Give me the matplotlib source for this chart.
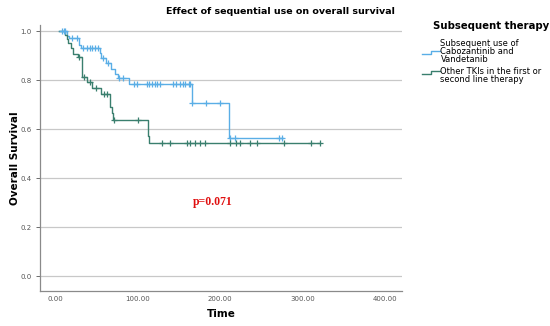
import numpy as np
import matplotlib
matplotlib.use("Agg")
import matplotlib.pyplot as plt
from matplotlib.lines import Line2D

# ---- data ----
blue_times = [5, 14, 17, 29, 31, 54, 56, 62, 68, 72, 76, 89, 166, 211, 276]
blue_surv = [1.0, 0.98, 0.97, 0.945, 0.93, 0.91, 0.89, 0.868, 0.845, 0.825, 0.81, 0.785, 0.705, 0.565, 0.565]
blue_cens = [8, 10, 12, 20, 26, 34, 38, 42, 45, 48, 52, 58, 64, 77, 82, 95, 99, 111, 114, 117,
             121, 124, 127, 143, 147, 151, 155, 158, 162, 164, 166, 183, 200, 212, 218, 271, 275]

green_times = [5, 12, 14, 16, 19, 21, 27, 32, 38, 45, 55, 67, 69, 70, 112, 113, 114, 321]
green_surv = [1.0, 0.984, 0.968, 0.95, 0.93, 0.905, 0.895, 0.813, 0.793, 0.766, 0.743, 0.689,
              0.664, 0.637, 0.596, 0.570, 0.543, 0.543]
green_cens = [29, 35, 42, 50, 59, 63, 71, 101, 129, 139, 160, 164, 170, 176, 182, 212, 219,
              224, 236, 245, 278, 311, 321]

series_labels = ["Subsequent use of\nCabozantinib and\nVandetanib",
                 "Other TKIs in the first or\nsecond line therapy"]
legend_title = "Subsequent therapy"
xticks = [0, 100, 200, 300, 400]
yticks = [0.0, 0.2, 0.4, 0.6, 0.8, 1.0]
p_text = "p=0.071"

BLUE = "#5aaee6"
GREEN = "#3a7f6e"

W, H = 550.0, 326.0
fig = plt.figure(figsize=(5.5, 3.26), dpi=100)
ax = fig.add_axes([0.0727, 0.108, 0.731 - 0.0727, 0.923 - 0.108])


def surv_at(times, surv, t):
    idx = np.searchsorted(times, t, side="right") - 1
    return surv[max(idx, 0)]


for times, surv, cens, col in [(blue_times, blue_surv, blue_cens, BLUE),
                               (green_times, green_surv, green_cens, GREEN)]:
    ax.step(times, surv, where="post", color=col, lw=1.0, zorder=3)
    cy = [surv_at(times, surv, c) for c in cens]
    ax.plot(cens, cy, ls="none", marker="+", ms=4.5, mew=0.9, color=col, zorder=4)

ax.set_xlim(-18.6, 421)
ax.set_ylim(-0.06, 1.0245)
ax.set_xticks(xticks)
ax.set_xticklabels([f"{v:.2f}" for v in xticks])
ax.set_yticks(yticks)
ax.set_yticklabels([f"{v:.1f}" for v in yticks])
ax.tick_params(axis="both", labelsize=5, colors="#555555", length=3, width=0.6)
ax.tick_params(axis="x", length=0, pad=4)
ax.tick_params(axis="y", pad=3)
for y in yticks:
    ax.axhline(y, color="#c8c8c8", lw=0.9, zorder=1)
for s in ["top", "right"]:
    ax.spines[s].set_visible(False)
for s in ["left", "bottom"]:
    ax.spines[s].set_color("#8a8a8a")
    ax.spines[s].set_linewidth(0.9)

ax.set_xlabel("Time", fontsize=7.5, fontweight="bold", labelpad=5)
ax.set_ylabel("Overall Survival", fontsize=7.5, fontweight="bold")
ax.yaxis.set_label_coords(-0.056, 0.5)

ax.text(191.6, 0.302, p_text, color="#e01010", fontsize=8.5, fontweight="bold",
        family="Liberation Serif", ha="center", va="center")

fig.text(280 / W, 1 - 11.5 / H, "Effect of sequential use on overall survival", fontsize=6.8,
         fontweight="bold", ha="center", va="center")

# legend (manual)
fig.text(433 / W, 1 - 26 / H, legend_title, fontsize=7.3, fontweight="bold",
         ha="left", va="center")
line_centers = [[43.5, 51.5, 59.5], [71.5, 79.5]]
handle_y = [52, 72]
for lab, col, ycs, ymid_px in zip(series_labels, [BLUE, GREEN], line_centers, handle_y):
    for line, yc in zip(lab.split("\n"), ycs):
        fig.text(440.5 / W, 1 - yc / H, line, fontsize=6.0, ha="left", va="center")
    xs = np.array([422, 431, 431, 440]) / W
    ys = 1 - np.array([ymid_px + 1.5, ymid_px + 1.5, ymid_px - 1.5, ymid_px - 1.5]) / H
    fig.add_artist(Line2D(xs, ys, color=col, lw=1.0, transform=fig.transFigure))

fig.savefig("out.png", dpi=100)
